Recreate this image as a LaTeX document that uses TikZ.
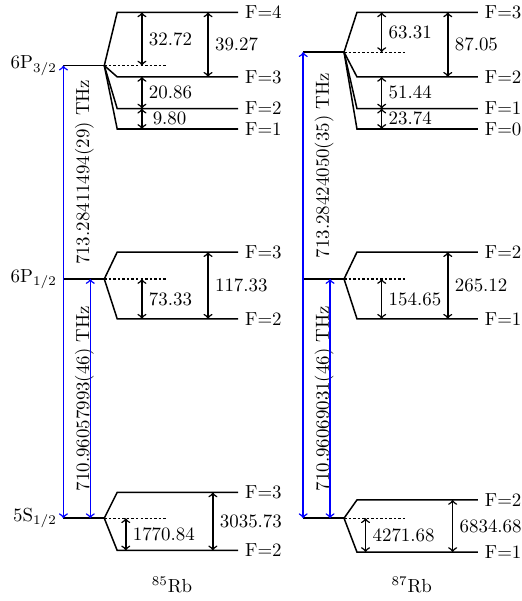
\documentclass[tikz,border=0pt]{standalone}
\usepackage{tikz}
\usetikzlibrary{calc}
\begin{document}
\begin{tikzpicture}[
  lvl/.style={thick},
  ref/.style={semithick, dash pattern=on 1.3pt off 1.1pt},
  hfs/.style={<->, thick},
  laser/.style={<->, thick, draw=blue}
]
\useasboundingbox (0,0) rectangle (9.71,11.18);

%% ---- Left: 85Rb ----
\coordinate (LA) at (2.64,0);
\coordinate (LB) at (3.87,0);
\coordinate (LC) at (2.34,0);
\coordinate (LD) at (3.96,0);

% 6P3/2
\coordinate (LP3)   at (1.18,9.96);
\coordinate (LP3c)  at (1.94,9.96);
\coordinate (LP3f4) at (2.18,10.95);
\coordinate (LP3f3) at (2.18,9.75);
\coordinate (LP3f2) at (2.18,9.16);
\coordinate (LP3f1) at (2.18,8.78);
\node[left] (LP3n) at (LP3) {6P$_{3/2}$};
\draw[lvl] (LP3) -- (LP3c);
\draw[ref] (LP3c) -- ++(1.15,0);
\draw[lvl] (LP3c) -- (LP3f4) -- ++(2.25,0) node[right] (LP3t4) {F=4};
\draw[lvl] (LP3c) -- (LP3f3) -- ++(2.25,0) node[right] (LP3t3) {F=3};
\draw[lvl] (LP3c) -- (LP3f2) -- ++(2.25,0) node[right] (LP3t2) {F=2};
\draw[lvl] (LP3c) -- (LP3f1) -- ++(2.25,0) node[right] (LP3t1) {F=1};
\draw[hfs] (LA |- LP3f4) -- node[right] {32.72} (LA |- LP3c);
\draw[hfs] (LB |- LP3f4) -- node[right] {39.27} (LB |- LP3f3);
\draw[hfs] (LA |- LP3f3) -- node[right] {20.86} (LA |- LP3f2);
\draw[hfs] (LA |- LP3f2) -- node[right, xshift=2pt] {9.80} (LA |- LP3f1);

% 6P1/2
\coordinate (LP1)   at (1.18,5.99);
\coordinate (LP1c)  at (1.94,5.99);
\coordinate (LP1f3) at (2.18,6.49);
\coordinate (LP1f2) at (2.18,5.25);
\node[left] (LP1n) at (LP1) {6P$_{1/2}$};
\draw[lvl] (LP1) -- (LP1c);
\draw[ref] (LP1c) -- ++(1.15,0);
\draw[lvl] (LP1c) -- (LP1f3) -- ++(2.25,0) node[right] (LP1t3) {F=3};
\draw[lvl] (LP1c) -- (LP1f2) -- ++(2.25,0) node[right] (LP1t2) {F=2};
\draw[hfs] (LA |- LP1c)  -- node[right] {73.33} (LA |- LP1f2);
\draw[hfs] (LB |- LP1f3) -- node[right] {117.33} (LB |- LP1f2);

% 5S1/2
\coordinate (LS)   at (1.18,1.54);
\coordinate (LSc)  at (1.94,1.54);
\coordinate (LSf3) at (2.18,2.02);
\coordinate (LSf2) at (2.18,0.94);
\node[left] (LSn) at (LS) {5S$_{1/2}$};
\draw[lvl] (LS) -- (LSc);
\draw[ref] (LSc) -- ++(1.15,0);
\draw[lvl] (LSc) -- (LSf3) -- ++(2.25,0) node[right] (LSt3) {F=3};
\draw[lvl] (LSc) -- (LSf2) -- ++(2.25,0) node[right] (LSt2) {F=2};
\draw[hfs] (LC |- LSc)  -- node[right] {1770.84} (LC |- LSf2);
\draw[hfs] (LD |- LSf3) -- node[right] {3035.73} (LD |- LSf2);

% optical lines
\draw[laser] (LS) -- node[below=2.3pt, sloped] {710.96057993(46) THz} (LP1)
                  -- node[below=2.3pt, sloped] {713.28411494(29) THz} (LP3);
\draw[laser] ([xshift=0.5cm]LS) -- ([xshift=0.5cm]LP1);

\node (LRb) at (3.20,0.30) {$^{85}$Rb};

%% ---- Right: 87Rb ----
\begin{scope}[xshift=4.46cm]
\coordinate (RA) at (2.64,0);
\coordinate (RB) at (3.87,0);
\coordinate (RC) at (2.34,0);
\coordinate (RD) at (3.96,0);

% 6P3/2
\coordinate (RP3)   at (1.18,10.21);
\coordinate (RP3c)  at (1.94,10.21);
\coordinate (RP3f3) at (2.18,10.95);
\coordinate (RP3f2) at (2.18,9.75);
\coordinate (RP3f1) at (2.18,9.16);
\coordinate (RP3f0) at (2.18,8.78);
\draw[lvl] (RP3) -- (RP3c);
\draw[ref] (RP3c) -- ++(1.15,0);
\draw[lvl] (RP3c) -- (RP3f3) -- ++(2.25,0) node[right] (RP3t3) {F=3};
\draw[lvl] (RP3c) -- (RP3f2) -- ++(2.25,0) node[right] (RP3t2) {F=2};
\draw[lvl] (RP3c) -- (RP3f1) -- ++(2.25,0) node[right] (RP3t1) {F=1};
\draw[lvl] (RP3c) -- (RP3f0) -- ++(2.25,0) node[right] (RP3t0) {F=0};
\draw[hfs] (RA |- RP3f3) -- node[right] {63.31} (RA |- RP3c);
\draw[hfs] (RB |- RP3f3) -- node[right] {87.05} (RB |- RP3f2);
\draw[hfs] (RA |- RP3f2) -- node[right] {51.44} (RA |- RP3f1);
\draw[hfs] (RA |- RP3f1) -- node[right] {23.74} (RA |- RP3f0);

% 6P1/2
\coordinate (RP1)   at (1.18,5.99);
\coordinate (RP1c)  at (1.94,5.99);
\coordinate (RP1f2) at (2.18,6.49);
\coordinate (RP1f1) at (2.18,5.25);
\draw[lvl] (RP1) -- (RP1c);
\draw[ref] (RP1c) -- ++(1.15,0);
\draw[lvl] (RP1c) -- (RP1f2) -- ++(2.25,0) node[right] (RP1t2) {F=2};
\draw[lvl] (RP1c) -- (RP1f1) -- ++(2.25,0) node[right] (RP1t1) {F=1};
\draw[hfs] (RA |- RP1c)  -- node[right] {154.65} (RA |- RP1f1);
\draw[hfs] (RB |- RP1f2) -- node[right] {265.12} (RB |- RP1f1);

% 5S1/2
\coordinate (RS)   at (1.18,1.54);
\coordinate (RSc)  at (1.94,1.54);
\coordinate (RSf2) at (2.18,1.88);
\coordinate (RSf1) at (2.18,0.91);
\draw[lvl] (RS) -- (RSc);
\draw[ref] (RSc) -- ++(1.15,0);
\draw[lvl] (RSc) -- (RSf2) -- ++(2.25,0) node[right] (RSt2) {F=2};
\draw[lvl] (RSc) -- (RSf1) -- ++(2.25,0) node[right] (RSt1) {F=1};
\draw[hfs] (RC |- RSc)  -- node[right] {4271.68} (RC |- RSf1);
\draw[hfs] (RD |- RSf2) -- node[right] {6834.68} (RD |- RSf1);

% optical lines
\draw[laser] (RS) -- node[below=2.3pt, sloped] {710.96069031(46) THz} (RP1)
                  -- node[below=2.3pt, sloped] {713.28424050(35) THz} (RP3);
\draw[laser] ([xshift=0.5cm]RS) -- ([xshift=0.5cm]RP1);

\node (RRb) at (3.20,0.30) {$^{87}$Rb};
\end{scope}

\end{tikzpicture}
\end{document}
